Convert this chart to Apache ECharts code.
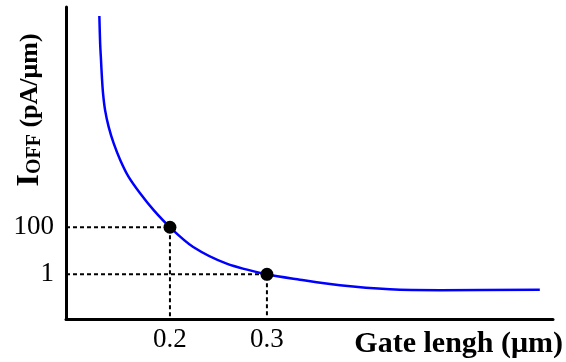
<!DOCTYPE html>
<html>
<head>
<meta charset="utf-8">
<script src="https://cdn.jsdelivr.net/npm/echarts@6/dist/echarts.min.js"></script>
<style>
html,body{margin:0;padding:0;background:#fff;}
#chart{width:566px;height:362px;}
</style>
</head>
<body>
<div id="chart"></div>
<script>
// Curve: gate length (um) vs off-state leakage (pA/um)
const gateLength = [0.1272, 0.128, 0.1289, 0.1298, 0.131, 0.1331, 0.1368, 0.142, 0.1488, 0.1574, 0.1694, 0.1832, 0.2, 0.224, 0.2585, 0.3, 0.334, 0.3753, 0.4268, 0.4784, 0.5814];
const ioff = [9.5e10, 6.6e9, 1.28e9, 2.5e8, 4.9e7, 9.5e6, 1.85e6, 3.65e5, 7.1e4, 1.38e4, 2.7e3, 530, 100, 14.5, 2.85, 1, 0.59, 0.34, 0.23, 0.21, 0.22];
// Highlighted points
const markedLength = [0.2, 0.3];
const markedIoff = [100, 1];
// Tick labels
const xTickValues = [0.2, 0.3];
const xTickLabels = ['0.2', '0.3'];
const yTickValues = [1, 100];
const yTickLabels = ['1', '100'];

const X_MIN = 0.0928, X_MAX = 0.595;
const Y_MIN = -1.9, Y_MAX = 11.36; // log10 scale

const lg = v => Math.log10(v);
const curve = gateLength.map((x, i) => [x, lg(ioff[i])]);
const dots = markedLength.map((x, i) => [x, lg(markedIoff[i])]);

const guideSeries = markedLength.map((x, i) => ({
  type: 'line',
  silent: true,
  symbol: 'none',
  data: [[X_MIN, lg(markedIoff[i])], [x, lg(markedIoff[i])], [x, Y_MIN]],
  lineStyle: { color: '#000', width: 2, type: [4, 3] },
  z: 1
}));

const SERIF = 'Liberation Serif';
const chart = echarts.init(document.getElementById('chart'));
chart.setOption({
  animation: false,
  backgroundColor: '#fff',
  grid: { left: 66, right: 13, top: 7, bottom: 43, containLabel: false },
  xAxis: {
    type: 'value', min: X_MIN, max: X_MAX,
    axisLine: { show: true, onZero: false, lineStyle: { color: '#000', width: 3 } },
    axisTick: { show: false },
    splitLine: { show: false },
    axisLabel: {
      customValues: xTickValues,
      formatter: v => xTickLabels[xTickValues.findIndex(t => Math.abs(t - v) < 1e-9)] ?? '',
      color: '#000', fontFamily: SERIF, fontSize: 27, margin: 7
    }
  },
  yAxis: {
    type: 'value', min: Y_MIN, max: Y_MAX,
    axisLine: { show: true, onZero: false, lineStyle: { color: '#000', width: 3 } },
    axisTick: { show: false },
    splitLine: { show: false },
    axisLabel: {
      customValues: yTickValues.map(lg),
      formatter: v => yTickLabels[yTickValues.findIndex(t => Math.abs(lg(t) - v) < 1e-9)] ?? '',
      color: '#000', fontFamily: SERIF, fontSize: 27, margin: 12
    }
  },
  series: [
    ...guideSeries,
    {
      type: 'line', data: curve, smooth: 0.3, symbol: 'none',
      lineStyle: { color: '#0000ff', width: 2.5 }, z: 2
    },
    {
      type: 'scatter', data: dots, symbol: 'circle', symbolSize: 13,
      itemStyle: { color: '#000', opacity: 1 }, z: 3
    }
  ],
  graphic: [
    {
      type: 'text', x: 30, y: 110, rotation: Math.PI / 2,
      style: {
        text: '{a|I}{b|OFF}{c| (pA/μm)}',
        align: 'center', verticalAlign: 'middle',
        fill: '#000',
        rich: {
          a: { fontFamily: SERIF, fontWeight: 'bold', fontSize: 32, fill: '#000' },
          b: { fontFamily: SERIF, fontWeight: 'bold', fontSize: 20, fill: '#000', padding: [9, 0, 0, 0] },
          c: { fontFamily: SERIF, fontWeight: 'bold', fontSize: 26, fill: '#000' }
        }
      }
    },
    {
      type: 'text', x: 563, y: 344,
      style: {
        text: 'Gate lengh (μm)',
        align: 'right', verticalAlign: 'middle',
        fontFamily: SERIF, fontWeight: 'bold', fontSize: 30, fill: '#000'
      }
    }
  ]
});
</script>
</body>
</html>
